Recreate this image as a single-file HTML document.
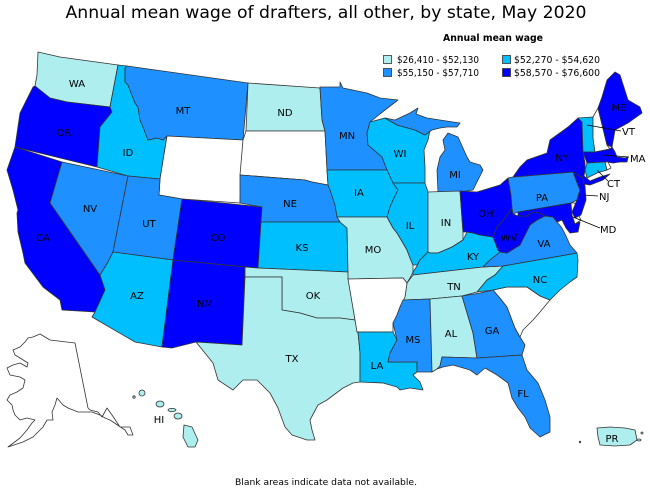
<!DOCTYPE html>
<html><head><meta charset="utf-8"><style>
html,body{margin:0;padding:0;background:#fff;}
svg{display:block;}
text{font-family:"DejaVu Sans","Liberation Sans",sans-serif;fill:#000;}
</style></head><body>
<svg width="650" height="488" viewBox="0 0 650 488" xmlns="http://www.w3.org/2000/svg">
<rect width="650" height="488" fill="#fff"/>
<text x="326" y="18" font-size="17" text-anchor="middle" textLength="521" lengthAdjust="spacingAndGlyphs">Annual mean wage of drafters, all other, by state, May 2020</text>
<text x="493" y="41" font-size="9.5" font-weight="bold" text-anchor="middle" textLength="100" lengthAdjust="spacingAndGlyphs">Annual mean wage</text>
<g stroke="#333" stroke-width="0.8">
<rect x="383.5" y="55.5" width="8" height="8" fill="#afeeee"/>
<rect x="502.5" y="55.5" width="8" height="8" fill="#00bfff"/>
<rect x="383.5" y="68.5" width="8" height="8" fill="#1e90ff"/>
<rect x="502.5" y="68.5" width="8" height="8" fill="#0000ff"/>
</g>
<g font-size="9.5">
<text x="397" y="63" textLength="82" lengthAdjust="spacingAndGlyphs">$26,410 - $52,130</text>
<text x="514" y="63" textLength="86" lengthAdjust="spacingAndGlyphs">$52,270 - $54,620</text>
<text x="397" y="76" textLength="82" lengthAdjust="spacingAndGlyphs">$55,150 - $57,710</text>
<text x="514" y="76" textLength="86" lengthAdjust="spacingAndGlyphs">$58,570 - $76,600</text>
</g>
<g stroke="#333" stroke-width="0.8" stroke-linejoin="round">
<polygon fill="#afeeee" points="38,52 60,57 118,65 110,107 67,102 50,98 35,86 37,75"/>
<polygon fill="#0000ff" points="35,86 50,98 67,102 110,107 112,112 100,127 97,167 15,147 20,113 33,87"/>
<polygon fill="#0000ff" points="15,147 62,162 50,203 100,275 105,290 95,312 62,310 60,300 43,287 25,263 23,253 18,232 17,213 18,210 13,190 7,170"/>
<polygon fill="#1e90ff" points="62,162 128,176 113,252 108,262 100,275 50,203"/>
<polygon fill="#00bfff" points="118,65 127,66 125,68 125,82 128,85 135,103 138,107 140,120 143,127 148,140 157,138 163,140 167,136 160,179 128,176 97,167 100,127 112,112 110,107"/>
<polygon fill="#1e90ff" points="127,66 248,83 243,140 167,136 163,140 157,138 148,140 143,127 140,120 138,107 135,103 128,85 125,82 125,68"/>
<polygon fill="#ffffff" points="167,136 243,140 240,203 182,199 159,195 160,179"/>
<polygon fill="#1e90ff" points="128,176 160,179 159,195 182,199 173,260 113,252"/>
<polygon fill="#0000ff" points="182,199 262,207 258,268 173,260"/>
<polygon fill="#00bfff" points="113,252 173,260 162,347 135,342 92,317 95,312 105,290 100,275 108,262"/>
<polygon fill="#0000ff" points="173,260 245,267 242,345 196,342 172,348 162,347"/>
<polygon fill="#afeeee" points="248,83 320,88 322,120 325,131 246,131"/>
<polygon fill="#ffffff" points="246,131 325,131 327,170 328,185 312,182 305,180 240,175 243,140"/>
<polygon fill="#1e90ff" points="240,175 305,180 312,182 328,185 333,195 337,210 340,222 261,222 262,207 240,203"/>
<polygon fill="#00bfff" points="261,222 340,222 347,228 348,272 258,268"/>
<polygon fill="#afeeee" points="245,267 258,268 348,272 355,320 340,318 317,318 300,313 282,310 282,277 245,277"/>
<polygon fill="#afeeee" points="245,277 282,277 282,310 300,313 317,318 340,318 355,320 358,332 360,353 360,382 353,383 343,388 327,400 318,405 310,420 312,430 315,440 307,440 292,435 285,427 278,408 270,393 257,380 243,380 233,390 218,380 213,363 196,342 242,345"/>
<polygon fill="#1e90ff" points="320,87 340,87 340,82 343,88 367,93 380,98 398,100 385,110 370,122 367,133 368,145 382,157 387,170 327,170 325,131 322,120"/>
<polygon fill="#00bfff" points="370,122 385,118 397,125 415,130 425,135 430,130 428,140 424,150 425,167 425,183 393,183 387,170 382,157 368,145 367,133"/>
<polygon fill="#1e90ff" points="385,118 395,120 410,113 418,108 416,114 427,118 440,120 453,122 460,123 457,127 447,127 440,128 432,130 425,135 415,130 397,125"/>
<polygon fill="#1e90ff" points="448,133 458,137 467,157 470,162 480,165 483,170 477,182 473,190 460,192 438,192 437,170 440,157 445,150 443,140"/>
<polygon fill="#00bfff" points="327,170 387,170 393,183 398,190 393,200 390,207 387,217 337,217 335,205 330,190 328,185"/>
<polygon fill="#afeeee" points="337,217 387,217 393,228 397,233 403,243 407,250 410,258 413,265 413,272 410,278 407,283 403,278 348,279 348,272 347,228 340,222"/>
<polygon fill="#00bfff" points="393,183 425,183 428,192 428,252 420,260 417,265 413,265 410,258 407,250 403,243 397,233 393,228 387,217 390,207 393,200 398,190"/>
<polygon fill="#afeeee" points="428,192 460,191 463,232 463,240 452,247 438,253 430,253 428,252"/>
<polygon fill="#00bfff" points="417,266 420,260 428,252 430,253 438,253 452,247 463,240 467,232 473,233 480,235 493,237 498,250 500,252 490,260 483,267 413,275 413,272"/>
<polygon fill="#afeeee" points="413,275 483,267 503,266 495,275 487,280 477,292 462,296 430,299 403,300 405,297 407,283"/>
<polygon fill="#ffffff" points="348,279 403,278 407,283 405,297 400,307 397,315 393,323 393,332 357,332 355,320"/>
<polygon fill="#00bfff" points="357,332 393,332 397,340 390,353 388,362 417,362 417,372 413,375 420,382 423,390 410,388 400,390 397,387 383,383 360,382 360,353 358,332"/>
<polygon fill="#1e90ff" points="403,300 430,299 432,372 417,372 417,362 388,362 390,353 397,340 393,323 397,315 400,307"/>
<polygon fill="#afeeee" points="430,299 462,296 473,333 477,358 442,357 440,366 437,369 432,372"/>
<polygon fill="#1e90ff" points="462,296 480,293 493,290 500,298 507,307 515,328 520,337 525,345 522,355 477,358 473,333"/>
<polygon fill="#1e90ff" points="442,357 477,358 522,355 527,370 538,383 545,400 550,417 550,432 540,437 530,428 525,417 518,408 512,398 508,383 497,375 485,368 477,375 470,370 453,365 443,367 437,369 440,366"/>
<polygon fill="#ffffff" points="493,290 507,287 527,287 540,296 550,300 540,312 533,320 523,330 520,337 515,328 507,307 500,298"/>
<polygon fill="#00bfff" points="503,266 577,253 578,260 577,277 570,282 560,290 550,300 540,296 527,287 507,287 493,290 477,292 487,280 495,275"/>
<polygon fill="#1e90ff" points="483,267 490,260 500,252 507,253 520,245 525,235 530,225 537,220 545,216 553,217 557,222 562,228 566,236 570,245 577,253 503,266"/>
<polygon fill="#0000ff" points="493,237 497,227 505,218 512,208 513,214 518,216 527,216 533,212 540,213 545,216 537,220 530,225 525,235 520,245 507,253 500,252 498,250"/>
<polygon fill="#0000ff" points="460,191 477,192 500,185 508,178 511,195 512,208 505,218 497,227 493,237 480,235 473,233 467,232 463,232"/>
<polygon fill="#1e90ff" points="508,178 513,177 573,172 576,180 580,190 577,200 571,203 518,212 513,214 512,208 511,195"/>
<polygon fill="#0000ff" points="518,212 571,203 572,215 575,224 580,222 578,232 570,233 566,228 562,220 557,222 553,217 545,216 540,213 533,212 527,216 518,216"/>
<polygon fill="#ffffff" points="571,203 575,203 577,212 581,220 575,224 572,215"/>
<polygon fill="#0000ff" points="573,172 583,178 585,186 586,200 581,215 575,218 572,212 577,200 580,190 576,180"/>
<polygon fill="#0000ff" points="513,177 520,167 527,160 547,153 550,140 568,127 578,118 582,122 583,152 585,163 585,170 584,176 590,181 600,177 610,174 603,180 590,185 584,184 583,178 573,172"/>
<polygon fill="#00bfff" points="578,118 593,117 593,138 595,152 583,152 582,122"/>
<polygon fill="#ffffff" points="593,117 598,108 607,145 610,149 595,152 593,138"/>
<polygon fill="#0000ff" points="598,108 602,97 607,80 615,72 620,75 628,100 640,107 642,113 628,123 615,130 612,147 607,145"/>
<polygon fill="#0000ff" points="583,152 595,152 610,149 612,147 615,152 617,157 625,158 628,157 627,162 620,162 613,163 607,162 587,163"/>
<polygon fill="#00bfff" points="587,163 605,162 607,170 597,173 587,178 585,170"/>
<polygon fill="#ffffff" points="605,162 608,162 611,168 607,170"/>
<polygon fill="#ffffff" points="40,334 50,340 75,343 88,408 90,410 98,412 102,417 107,408 112,415 120,427 130,427 133,435 128,435 125,430 110,420 105,418 100,415 92,412 78,412 68,408 63,405 57,398 55,405 52,412 53,420 47,420 43,427 33,437 23,442 8,447 20,438 27,430 32,423 35,420 27,418 20,420 15,415 13,410 12,405 7,400 10,395 17,392 23,388 25,380 20,377 10,375 7,368 13,365 20,363 27,367 28,363 20,358 15,355 13,350 20,347 25,342 28,338 33,337"/>
<circle cx="142" cy="393" r="3" fill="#afeeee"/>
<circle cx="134" cy="397" r="1.2" fill="#afeeee"/>
<ellipse cx="160" cy="404" rx="4" ry="3" fill="#afeeee"/>
<ellipse cx="172" cy="410" rx="4" ry="1.6" fill="#afeeee"/>
<ellipse cx="178" cy="416" rx="4" ry="3" fill="#afeeee"/>
<polygon fill="#afeeee" points="184,425 192,427 198,440 195,447 188,447 183,437"/>
<polygon fill="#afeeee" points="597,428 610,427 625,428 635,430 637,440 630,445 615,446 600,445 598,437"/>
<circle cx="580" cy="442" r="0.8" fill="#afeeee"/>
<ellipse cx="639" cy="440" rx="2" ry="1" fill="#afeeee"/>
<circle cx="642" cy="433" r="1" fill="#afeeee"/>
</g>
<g stroke="#000" stroke-width="0.8">
<line x1="587" y1="125" x2="621" y2="131"/>
<line x1="603" y1="155" x2="629" y2="157"/>
<line x1="597" y1="170" x2="608" y2="181"/>
<line x1="583" y1="195" x2="598" y2="196"/>
<line x1="573" y1="217" x2="600" y2="228"/>
</g>
<g font-size="10" text-anchor="middle">
<text x="77" y="87">WA</text>
<text x="64" y="136">OR</text>
<text x="43" y="241">CA</text>
<text x="90" y="212">NV</text>
<text x="128" y="156">ID</text>
<text x="183" y="114">MT</text>
<text x="285" y="116">ND</text>
<text x="149" y="227">UT</text>
<text x="218" y="241">CO</text>
<text x="137" y="299">AZ</text>
<text x="205" y="307">NM</text>
<text x="290" y="207">NE</text>
<text x="302" y="251">KS</text>
<text x="313" y="299">OK</text>
<text x="292" y="362">TX</text>
<text x="347" y="139">MN</text>
<text x="400" y="157">WI</text>
<text x="359" y="196">IA</text>
<text x="410" y="229">IL</text>
<text x="446" y="226">IN</text>
<text x="455" y="178">MI</text>
<text x="486" y="217">OH</text>
<text x="373" y="253">MO</text>
<text x="473" y="260">KY</text>
<text x="454" y="290">TN</text>
<text x="377" y="369">LA</text>
<text x="413" y="343">MS</text>
<text x="451" y="337">AL</text>
<text x="492" y="334">GA</text>
<text x="523" y="397">FL</text>
<text x="540" y="283">NC</text>
<text x="544" y="247">VA</text>
<text x="509" y="241">WV</text>
<text x="542" y="201">PA</text>
<text x="562" y="161">NY</text>
<text x="619" y="111">ME</text>
<text x="159" y="423">HI</text>
<text x="612" y="442">PR</text>
</g>
<g font-size="10">
<text x="622" y="135">VT</text>
<text x="630" y="162">MA</text>
<text x="607" y="187">CT</text>
<text x="599" y="200">NJ</text>
<text x="600" y="233">MD</text>
</g>
<text x="326" y="485" font-size="9" text-anchor="middle" textLength="182" lengthAdjust="spacingAndGlyphs">Blank areas indicate data not available.</text>
</svg>
</body></html>
